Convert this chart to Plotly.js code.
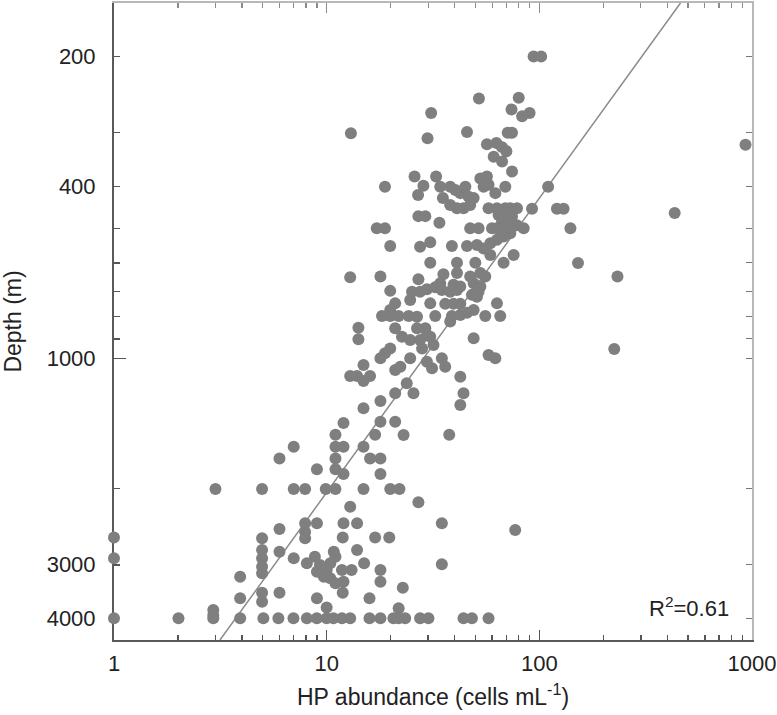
<!DOCTYPE html>
<html>
<head>
<meta charset="utf-8">
<script src="https://cdn.plot.ly/plotly-3.0.1.min.js"></script>
<style>html,body{margin:0;padding:0;background:#fff;}#chart{width:777px;height:715px;}</style>
</head>
<body>
<div id="chart"></div>
<script>
// HP abundance (cells mL^-1) for each sample
const hpAbundance = [
  94,102,52,80,74,83,90,31,13,29.8,45.7,71,74.4,56.7,62.8,66.8,70,61,66.8,74.4,932,25.9,32.7,52.8,56.7,
  18.8,28.5,26.9,34.2,35.2,38.1,40.3,42.5,44.9,46.5,49.1,47.3,44,41,38.1,54.7,57.7,62.1,69.2,110,57.7,63.2,69.2,73,78.5,92.4,121,130,433,64.3,69.2,74.4,66.8,71.7,78.5,27,29.1,33.9,17.2,18.8,47.3,51.8,59.9,63.2,70.5,84.4,140,30.7,73,67.9,63.2,
  19.9,27.5,38.8,45.7,50.9,54.7,58.8,58.8,75.7,67.9,30.7,41,50,152,233,12.9,17.9,27,35.4,41,47.3,52.8,55.7,34.2,39.5,49.1,52.8,19.9,25.2,27.5,29.6,32.4,34.8,38.1,41,42.5,48.2,51.8,24.7,50.9,
  30.7,36.1,39.5,42.5,63.2,21,19.9,18.2,19.9,21.8,24.3,26.6,32.4,38.8,42.5,45.7,49.1,55.7,65.5,14.1,14.1,21,22.6,24.7,26.6,29.1,29.6,27.5,30.7,38.1,49.1,
  225,31.8,28.1,19.9,18.8,17.9,24.7,21,22.2,29.6,31.3,34.8,36.1,57.7,62.1,42.5,44,42.5,14.9,12.9,13.9,16,14.9,23.8,21,25.6,17.9,14.9,
  12,17.9,21,16.9,23,11,37.7,7,11,12,14.9,6,11,16,17.9,9,11,12,17.9,3,4.97,7,7.92,9.9,11,14.9,19.9,22,27,12.9,
  7.92,9,12,13.9,34.8,77,6,7.92,7.92,4.97,11.9,16.9,19.7,1,1,1,4.97,4.97,4.97,4.97,6,7,8.8,10.8,11,10.4,9.3,8.07,9,10,11.8,13.1,9.7,10.4,11,12,13.9,15,17.9,17.9,34.8,22.8,3.92,3.92,4.97,4.97,6,9,11.9,15.9,10,21.8,2.93,2.93,
  2.01,2.93,3.92,5.04,5.93,6.98,8.07,8.99,10,10.76,11.8,12.9,15.9,17.9,20.6,21.8,23.4,27.5,30.1,44,48.2,57.7
];
// Depth (m) for each sample
const depthM = [
  200,200,250,249,265,275,270,270,301,309,299,300,300,319,317,324,331,341,350,369,320,379,379,383,379,
  400,398,418,400,425,400,407,414,400,422,425,441,449,449,441,400,396,414,400,400,449,449,449,449,449,450,450,450,460,465,461,469,482,486,491,468,468,485,499,499,499,499,499,499,499,499,499,538,513,522,531,
  549,551,549,549,546,556,541,576,576,600,600,600,600,601,646,648,646,655,638,634,646,634,646,669,675,669,681,697,700,700,691,684,694,700,694,681,712,700,732,719,
  745,747,747,747,745,745,772,797,797,797,797,800,797,797,793,783,772,797,797,848,902,851,890,906,851,851,882,906,890,821,897,
  950,930,947,947,972,998,998,1063,1044,1017,1053,998,1044,981,998,1101,1203,1281,1035,1097,1097,1097,1127,1141,1203,1203,1254,1303,
  1410,1400,1400,1500,1503,1500,1500,1600,1600,1600,1600,1702,1702,1702,1702,1804,1804,1850,1850,2004,2004,2004,2004,2004,2004,2004,2004,2004,2151,2202,
  2406,2406,2406,2406,2406,2493,2480,2520,2604,2604,2593,2593,2593,2593,2899,3990,2773,2899,3031,3140,2799,2899,2874,2799,2874,2977,3004,2977,3113,3085,3085,3085,3197,3225,3311,3283,2773,2977,3085,3283,2993,3390,3197,3587,3482,3653,3482,3587,3482,3587,3768,3784,3818,3921,
  3990,3990,3990,3990,3990,3990,3990,3990,3990,3990,3990,3990,3990,3990,3990,3990,3990,3990,3990,3990,3990,3990
];
// Regression line end points (log-log fit)
const fitAbundance = [3.15, 461];
const fitDepth = [4480, 150.3];

// Axis ticks
const xMajorTicks = [1, 10, 100, 1000];
const xMajorLabels = ['1', '10', '100', '1000'];
const xMinorTicks = [2,3,4,5,6,7,8,9,20,30,40,50,60,70,80,90,200,300,400,500,600,700,800,900];
const yMajorTicks = [200, 400, 1000, 3000, 4000];
const yMajorLabels = ['200', '400', '1000', '3000', '4000'];
const yMinorTicks = [300, 500, 600, 700, 800, 900, 2000];
const yDecadeTicks = [1000];
const r2Text = 'R<sup>2</sup>=0.61';

const xRange = [0, 3];
const yRange = [Math.log10(4480), Math.log10(150.3)];

const traces = [
  {type:'scatter', mode:'lines', x: fitAbundance, y: fitDepth,
   line:{color:'#8a8a8a', width:1.5}, hoverinfo:'skip', cliponaxis:true},
  {type:'scatter', mode:'markers', x: hpAbundance, y: depthM,
   marker:{color:'#7f7f7f', size:12, line:{width:0}}, cliponaxis:false},
  {type:'scatter', x:[], y:[], xaxis:'x2', yaxis:'y2', hoverinfo:'skip'},
  {type:'scatter', x:[], y:[], xaxis:'x', yaxis:'y3', hoverinfo:'skip'}
];

const fontFam = '"Liberation Sans", Arial, Helvetica, sans-serif';
const layout = {
  width: 777, height: 715,
  margin: {l:114, r:25, t:3, b:75, pad:0},
  paper_bgcolor:'#ffffff', plot_bgcolor:'#ffffff',
  font:{family:fontFam, size:22, color:'#222'},
  showlegend:false,
  xaxis:{
    type:'log', range:xRange, showline:true, linecolor:'#5a5a5a', linewidth:2,
    ticks:'inside', ticklen:10, tickwidth:1.5, tickcolor:'#555',
    tickmode:'array', tickvals:xMajorTicks, ticktext:xMajorLabels,
    minor:{tickmode:'array', tickvals:xMinorTicks, ticks:'inside', ticklen:5, tickwidth:1.5, tickcolor:'#555', showgrid:false},
    showgrid:false, zeroline:false, layer:'below traces',
    ticklabelstandoff:3,
    tickfont:{size:22, color:'#222'},
    title:{text:'HP abundance (cells mL<sup>-1</sup>)', font:{size:23, color:'#222'}, standoff:13}
  },
  xaxis2:{
    type:'log', range:xRange, overlaying:'x', side:'top', anchor:'y',
    showline:true, linecolor:'#b8b8b8', linewidth:2,
    ticks:'inside', ticklen:10, tickwidth:1.2, tickcolor:'#8a8a8a',
    tickmode:'array', tickvals:xMajorTicks, showticklabels:false,
    minor:{tickmode:'array', tickvals:xMinorTicks, ticks:'inside', ticklen:5, tickwidth:1.2, tickcolor:'#8a8a8a', showgrid:false},
    showgrid:false, zeroline:false
  },
  yaxis:{
    type:'log', range:yRange, showline:true, linecolor:'#5a5a5a', linewidth:2,
    ticks:'inside', ticklen:6, tickwidth:1.5, tickcolor:'#555',
    tickmode:'array', tickvals:yMajorTicks, ticktext:yMajorLabels,
    minor:{tickmode:'array', tickvals:yMinorTicks, ticks:'inside', ticklen:6, tickwidth:1.5, tickcolor:'#555', showgrid:false},
    showgrid:false, zeroline:false, layer:'below traces',
    ticklabelstandoff:12,
    tickfont:{size:22, color:'#222'},
    title:{text:'Depth (m)', font:{size:23, color:'#222'}, standoff:22}
  },
  yaxis2:{
    type:'log', range:yRange, overlaying:'y', side:'right', anchor:'x',
    showline:true, linecolor:'#b8b8b8', linewidth:2,
    ticks:'inside', ticklen:6, tickwidth:1.2, tickcolor:'#777',
    tickmode:'array', tickvals:yMajorTicks, showticklabels:false,
    minor:{tickmode:'array', tickvals:yMinorTicks, ticks:'inside', ticklen:6, tickwidth:1.2, tickcolor:'#777', showgrid:false},
    showgrid:false, zeroline:false
  },
  yaxis3:{
    type:'log', range:yRange, overlaying:'y', side:'left', anchor:'x',
    showline:false, ticks:'inside', ticklen:12, tickwidth:1.5, tickcolor:'#555',
    tickmode:'array', tickvals:yDecadeTicks, showticklabels:false,
    showgrid:false, zeroline:false
  },
  annotations:[{
    text:r2Text, xref:'paper', yref:'paper', x:0.967, y:0.052,
    xanchor:'right', yanchor:'middle', showarrow:false,
    font:{size:22, color:'#222', family:fontFam}
  }]
};

Plotly.newPlot('chart', traces, layout, {displayModeBar:false, staticPlot:true});
</script>
</body>
</html>
